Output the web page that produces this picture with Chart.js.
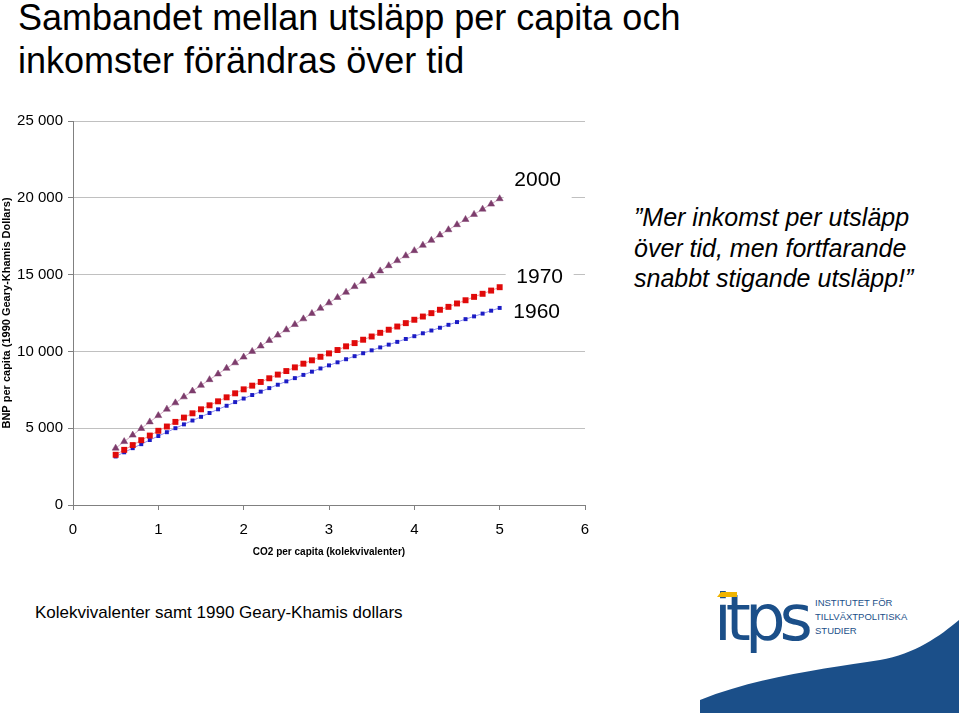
<!DOCTYPE html>
<html>
<head>
<meta charset="utf-8">
<script src="https://cdn.jsdelivr.net/npm/chart.js@4/dist/chart.umd.min.js"></script>
<style>
  body { margin: 0; background: #fff; width: 959px; height: 721px; overflow: hidden; position: relative; font-family: "Liberation Sans", Arial, sans-serif; }
  #title { position: absolute; left: 18px; top: -4px; font-size: 36px; line-height: 43px; color: #000; }
  #chart-box { position: absolute; left: 0; top: 100px; width: 620px; height: 470px; }
  #quote { position: absolute; left: 634px; top: 202px; font-size: 25px; font-style: italic; line-height: 30.5px; color: #000; }
  #note { position: absolute; left: 35px; top: 603px; font-size: 17px; color: #000; }
  #logo { position: absolute; left: 700px; top: 575px; }
</style>
</head>
<body>
<div id="title">Sambandet mellan utsläpp per capita och<br>inkomster förändras över tid</div>
<div id="chart-box"><canvas id="chart" width="620" height="470"></canvas></div>
<div id="quote">”Mer inkomst per utsläpp<br>över tid, men fortfarande<br>snabbt stigande utsläpp!”</div>
<div id="note">Kolekvivalenter samt 1990 Geary-Khamis dollars</div>
<svg id="logo" width="259" height="146" viewBox="700 575 259 146">
  <path d="M700,713 L700,700 C760,676 830,668 880,660 C915,654 940,636 959,620 L959,713 Z" fill="#1b4f89"/>
  <text x="714" y="640" font-family="DejaVu Sans, sans-serif" font-size="64" fill="#1b4f89" letter-spacing="-6">itps</text>
  <path d="M717,597 L721,592 L737,592 L737,597 Z" fill="#f0b400"/>
  <text x="815" y="606" font-family="Liberation Sans, Arial, sans-serif" font-size="9.5" fill="#1b4f89">INSTITUTET FÖR</text>
  <text x="815" y="620" font-family="Liberation Sans, Arial, sans-serif" font-size="9.5" fill="#1b4f89">TILLVÄXTPOLITISKA</text>
  <text x="815" y="634" font-family="Liberation Sans, Arial, sans-serif" font-size="9.5" fill="#1b4f89">STUDIER</text>
</svg>
<script>
// CO2 per capita (x) – samma för alla tre serier
const xValues = [0.5, 0.6, 0.7, 0.8, 0.9, 1.0, 1.1, 1.2, 1.3, 1.4, 1.5, 1.6, 1.7, 1.8, 1.9, 2.0,
  2.1, 2.2, 2.3, 2.4, 2.5, 2.6, 2.7, 2.8, 2.9, 3.0, 3.1, 3.2, 3.3, 3.4, 3.5, 3.6, 3.7, 3.8,
  3.9, 4.0, 4.1, 4.2, 4.3, 4.4, 4.5, 4.6, 4.7, 4.8, 4.9, 5.0];

// BNP per capita för respektive år
const y2000 = [3700, 4130, 4550, 4980, 5410, 5820, 6240, 6650, 7040, 7420, 7790, 8160, 8530, 8900,
  9260, 9630, 10000, 10350, 10710, 11060, 11410, 11750, 12120, 12470, 12810, 13160, 13510, 13850,
  14220, 14570, 14910, 15240, 15580, 15910, 16230, 16560, 16910, 17230, 17580, 17920, 18250, 18590,
  18920, 19260, 19590, 19940];
const y1970 = [3270, 3590, 3900, 4220, 4520, 4830, 5110, 5410, 5690, 5970, 6230, 6490, 6750, 7010,
  7270, 7530, 7770, 8010, 8250, 8490, 8720, 8960, 9200, 9420, 9650, 9870, 10090, 10330, 10540, 10760,
  10970, 11210, 11410, 11620, 11840, 12060, 12270, 12490, 12710, 12900, 13120, 13330, 13550, 13750,
  13960, 14180];
const y1960 = [3160, 3430, 3700, 3960, 4230, 4490, 4740, 5000, 5250, 5500, 5740, 5990, 6230, 6460,
  6700, 6930, 7160, 7380, 7610, 7830, 8050, 8260, 8470, 8680, 8890, 9090, 9290, 9490, 9690, 9880,
  10070, 10260, 10440, 10620, 10810, 10990, 11180, 11360, 11540, 11730, 11910, 12100, 12280, 12460,
  12650, 12830];

const seriesNames = ["2000", "1970", "1960"];
const yTickValues = [0, 5000, 10000, 15000, 20000, 25000];
const yTickLabels = ["0", "5 000", "10 000", "15 000", "20 000", "25 000"];
const xTickLabels = ["0", "1", "2", "3", "4", "5", "6"];

const FONT = "'Liberation Sans', Arial, sans-serif";

function toPoints(ys) {
  return ys.map((y, i) => ({ x: xValues[i], y }));
}

// etikett vid sista punkten i varje serie (vit bakgrund som i Excel)
const LABEL_OFFSETS = [[38, -20], [40, -11], [37, 3]];
const endLabels = {
  id: "endLabels",
  afterDatasetsDraw(chart) {
    const ctx = chart.ctx;
    ctx.save();
    ctx.font = "21px " + FONT;
    ctx.textAlign = "center";
    ctx.textBaseline = "middle";
    chart.data.datasets.forEach((ds, i) => {
      const meta = chart.getDatasetMeta(i);
      const last = meta.data[meta.data.length - 1];
      const cx = last.x + LABEL_OFFSETS[i][0];
      const cy = last.y + LABEL_OFFSETS[i][1];
      ctx.fillStyle = "#fff";
      ctx.fillRect(cx - 34, cy - 20, 68, 40);
      ctx.fillStyle = "#000";
      ctx.fillText(ds.label, cx, cy + 1);
    });
    ctx.restore();
  },
};

new Chart(document.getElementById("chart"), {
  type: "scatter",
  data: {
    datasets: [
      {
        label: seriesNames[0],
        data: toPoints(y2000),
        showLine: true,
        borderColor: "#d2a9c2",
        borderWidth: 1,
        pointStyle: "triangle",
        pointRadius: 4,
        pointBackgroundColor: "#7d3c6c",
        pointBorderColor: "#7d3c6c",
        pointBorderWidth: 0.5,
      },
      {
        label: seriesNames[1],
        data: toPoints(y1970),
        showLine: true,
        borderColor: "#f29a9a",
        borderWidth: 1,
        pointStyle: "rect",
        pointRadius: 4.2,
        pointBackgroundColor: "#e00a0a",
        pointBorderColor: "#e00a0a",
        pointBorderWidth: 0,
      },
      {
        label: seriesNames[2],
        data: toPoints(y1960),
        showLine: true,
        borderColor: "#8f8ff0",
        borderWidth: 1,
        pointStyle: "rect",
        pointRadius: 2.8,
        pointBackgroundColor: "#1c1cc4",
        pointBorderColor: "#1c1cc4",
        pointBorderWidth: 0,
      },
    ],
  },
  options: {
    responsive: false,
    animation: false,
    layout: { padding: { left: 0, top: 21, right: 35, bottom: 0 } },
    plugins: {
      legend: { display: false },
      tooltip: { enabled: false },
    },
    scales: {
      x: {
        type: "linear",
        min: 0,
        max: 6,
        afterFit: (s) => { s.height = 65; },
        ticks: {
          stepSize: 1,
          color: "#000",
          padding: 11,
          font: { family: FONT, size: 15 },
          callback: (v) => xTickLabels[v],
        },
        grid: { drawOnChartArea: false, drawTicks: true, tickLength: 5, tickColor: "#808080" },
        border: { color: "#808080", width: 1 },
        title: {
          display: true,
          text: "CO2 per capita (kolekvivalenter)",
          color: "#000",
          font: { family: FONT, size: 10, weight: "bold" },
          padding: { top: 4, bottom: 12 },
        },
      },
      y: {
        min: 0,
        max: 25000,
        afterFit: (s) => { s.width = 73; },
        ticks: {
          stepSize: 5000,
          color: "#000",
          padding: 5,
          font: { family: FONT, size: 15 },
          callback: (v) => yTickLabels[yTickValues.indexOf(v)],
        },
        grid: { color: "#c0c0c0", lineWidth: 1, tickLength: 5, tickColor: "#808080" },
        border: { color: "#808080", width: 1 },
        title: {
          display: true,
          text: "BNP per capita (1990 Geary-Khamis Dollars)",
          color: "#000",
          font: { family: FONT, size: 11, weight: "bold" },
          padding: { top: 0, bottom: 0 },
        },
      },
    },
  },
  plugins: [endLabels],
});
</script>
</body>
</html>
